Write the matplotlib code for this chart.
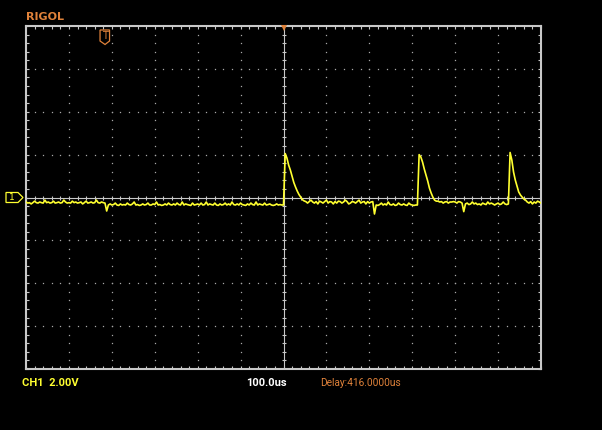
import numpy as np
import matplotlib
matplotlib.use('Agg')
import matplotlib.pyplot as plt
from matplotlib.patches import Polygon
from matplotlib.transforms import Affine2D

# scope settings
time_per_div = 100.0    # us / div
volts_per_div = 2.0     # V / div
t_start = -600.0        # us, left edge of screen
sample_step = 4.0       # us between samples
trigger_delay = -416.0  # us

# CH1 trace, one sample every 4 us from the left edge (V)
seg_a = [-0.21, -0.26, -0.24, -0.30, -0.24, -0.17, -0.24, -0.26, -0.21, -0.24,
         -0.26, -0.12, -0.24, -0.21, -0.26, -0.24, -0.17, -0.26, -0.24, -0.21,
         -0.26, -0.24, -0.12, -0.21, -0.26, -0.24, -0.26, -0.17, -0.24, -0.21,
         -0.26, -0.24, -0.21, -0.30, -0.24, -0.17, -0.26, -0.24, -0.21, -0.26,
         -0.24, -0.12, -0.24, -0.26, -0.21, -0.24, -0.26]
dip_a = [-0.63]
seg_b = [-0.35, -0.30, -0.35, -0.33, -0.26, -0.35, -0.37, -0.30, -0.35, -0.33,
         -0.35, -0.26, -0.33, -0.35, -0.30, -0.21, -0.35, -0.33, -0.37, -0.35,
         -0.30, -0.35, -0.33, -0.26, -0.35, -0.35, -0.30, -0.33, -0.21, -0.35,
         -0.33, -0.37, -0.35, -0.30, -0.35, -0.26, -0.33, -0.35, -0.30, -0.35,
         -0.26, -0.33, -0.35, -0.21, -0.35, -0.30, -0.33, -0.35, -0.37, -0.26,
         -0.35, -0.33, -0.30, -0.35, -0.26, -0.35, -0.33, -0.21, -0.35, -0.30,
         -0.33, -0.35, -0.26, -0.35, -0.37, -0.30, -0.35, -0.33, -0.26, -0.35,
         -0.30, -0.35, -0.21, -0.33, -0.35, -0.30, -0.35, -0.26, -0.33, -0.35,
         -0.37, -0.30, -0.35, -0.26, -0.33, -0.35, -0.21, -0.35, -0.30, -0.33,
         -0.35, -0.26, -0.35, -0.33, -0.30, -0.35, -0.37, -0.35, -0.30, -0.35,
         -0.33, -0.35, -0.35]
spike_1 = [2.05, 1.84, 1.51, 1.28, 0.98, 0.70, 0.49, 0.30, 0.14, 0.02, -0.10, -0.16]
seg_c = [-0.19, -0.26, -0.19, -0.12, -0.21, -0.26, -0.19, -0.30, -0.17, -0.21,
         -0.26, -0.19, -0.12, -0.26, -0.19, -0.21, -0.30, -0.19, -0.26, -0.17,
         -0.19, -0.26, -0.21, -0.12, -0.19, -0.30, -0.26, -0.19, -0.21, -0.26,
         -0.19, -0.12, -0.26, -0.21, -0.19, -0.30, -0.19, -0.26, -0.21, -0.19]
dip_b = [-0.77]
seg_d = [-0.35, -0.37, -0.33, -0.26, -0.35, -0.30, -0.35, -0.21, -0.33, -0.35,
         -0.30, -0.37, -0.35, -0.26, -0.33, -0.35, -0.30, -0.35, -0.37, -0.26,
         -0.33, -0.35, -0.37, -0.35, -0.35]
spike_2 = [2.00, 1.89, 1.65, 1.33, 1.05, 0.77, 0.44, 0.21, 0.02, -0.12, -0.17]
seg_e = [-0.17, -0.21, -0.19, -0.26, -0.21, -0.19, -0.26, -0.21, -0.21, -0.19,
         -0.21, -0.26, -0.19, -0.21, -0.26]
dip_c = [-0.66]
seg_f = [-0.30, -0.26, -0.33, -0.30, -0.21, -0.30, -0.26, -0.33, -0.30, -0.35,
         -0.26, -0.30, -0.33, -0.21, -0.30, -0.26, -0.30, -0.35, -0.30, -0.26,
         -0.33, -0.30, -0.21, -0.30, -0.33, -0.30]
spike_3 = [2.10, 1.75, 1.19, 0.82, 0.54, 0.26, 0.12, 0.02, -0.07, -0.12]
seg_g = [-0.21, -0.26, -0.19, -0.30, -0.21, -0.26, -0.17, -0.21, -0.26]

v_ch1 = (seg_a + dip_a + seg_b + spike_1 + seg_c + dip_b + seg_d + spike_2
         + seg_e + dip_c + seg_f + spike_3 + seg_g)
t_ch1 = t_start + sample_step * np.arange(len(v_ch1))

# colours
frame_col = '#c8c8c8'
dot_col = '#a8a8a8'
trace_col = '#ffff30'
orange = '#e0823a'
bar_font = ['Roboto', 'DejaVu Sans']

W, H = 602, 430
fig = plt.figure(figsize=(W / 100, H / 100), dpi=100, facecolor='black')
# screen area in pixels: x 26..541, y 26..369
ax = fig.add_axes([26 / W, (H - 369) / H, (541 - 26) / W, (369 - 26) / H])
ax.set_facecolor('black')

t_max = 6 * time_per_div
v_max = 4 * volts_per_div
ax.set_xlim(-t_max, t_max)
ax.set_ylim(-v_max, v_max)

# frame with small inward ticks every 1/5 div
for sp in ax.spines.values():
    sp.set_color(frame_col)
    sp.set_linewidth(1.5)
ax.set_xticks(np.arange(-t_max, t_max + 1, time_per_div / 5))
ax.set_yticks(np.arange(-v_max, v_max + 0.01, volts_per_div / 5))
ax.tick_params(direction='in', length=2.2, width=0.8, color=frame_col,
               top=True, right=True, labelbottom=False, labelleft=False)

# dotted graticule
sub_t = np.arange(-t_max, t_max + 1, time_per_div / 5)
sub_v = np.arange(-v_max, v_max + 0.01, volts_per_div / 5)
for k in range(-5, 6):
    if k == 0:
        continue
    ax.plot(np.full(len(sub_v), k * time_per_div), sub_v, ls='none', marker='s',
            ms=0.9, mew=0, color=dot_col)
for k in range(-3, 4):
    if k == 0:
        continue
    ax.plot(sub_t, np.full(len(sub_t), k * volts_per_div), ls='none', marker='s',
            ms=0.9, mew=0, color=dot_col)

# centre cross with ticks
ax.axhline(0, color=frame_col, lw=0.8)
ax.axvline(0, color=frame_col, lw=0.8)
ax.plot(sub_t, np.zeros(len(sub_t)), ls='none', marker='|', ms=3.5, mew=0.8,
        color=frame_col)
ax.plot(np.zeros(len(sub_v)), sub_v, ls='none', marker='_', ms=3.5, mew=0.8,
        color=frame_col)

# the trace
ax.plot(t_ch1, v_ch1, color=trace_col, lw=1.2, zorder=5)

# memory position marker at top centre
ax.plot(0, v_max - 0.08, marker='v', ms=5, color=orange, mew=0, clip_on=False,
        zorder=6)

# markers drawn in screen pixels (y from top)
pix = Affine2D().scale(1, -1).translate(0, H)

trig_x = 283.5 + trigger_delay / time_per_div * 42.9
tshape = [(trig_x - 5, 30), (trig_x + 4.5, 30), (trig_x + 4.5, 41),
          (trig_x, 44.5), (trig_x - 5, 41)]
fig.patches.append(Polygon(tshape, closed=True, fill=False, ec=orange, lw=0.9,
                           transform=pix, figure=fig))
fig.text((trig_x - 0.2) / W, 1 - 36 / H, 'T', color=orange, fontsize=7,
         ha='center', va='center')

chshape = [(6, 192.5), (18, 192.5), (23, 197.5), (18, 202.5), (6, 202.5)]
fig.patches.append(Polygon(chshape, closed=True, fill=False, ec=trace_col,
                           lw=0.9, transform=pix, figure=fig))
fig.text(12 / W, 1 - 197.5 / H, '1', color=trace_col, fontsize=6.5,
         ha='center', va='center')

# labels
fig.text(26 / W, 1 - 16.5 / H, 'RIGOL', color=orange, fontsize=8,
         fontweight='bold', family='DejaVu Sans', va='center')
fig.text(22 / W, 1 - 382.5 / H, 'CH1  2.00V', color=trace_col, fontsize=8,
         fontweight='bold', family=bar_font, va='center')
fig.text(246 / W, 1 - 382.5 / H, '100.0us', color='white', fontsize=8,
         fontweight='bold', family=bar_font, va='center')
fig.text(320.5 / W, 1 - 382.5 / H, 'Delay:416.0000us', color=orange,
         fontsize=7.3, family=bar_font, va='center')

fig.savefig('out.png', dpi=100, facecolor='black')
